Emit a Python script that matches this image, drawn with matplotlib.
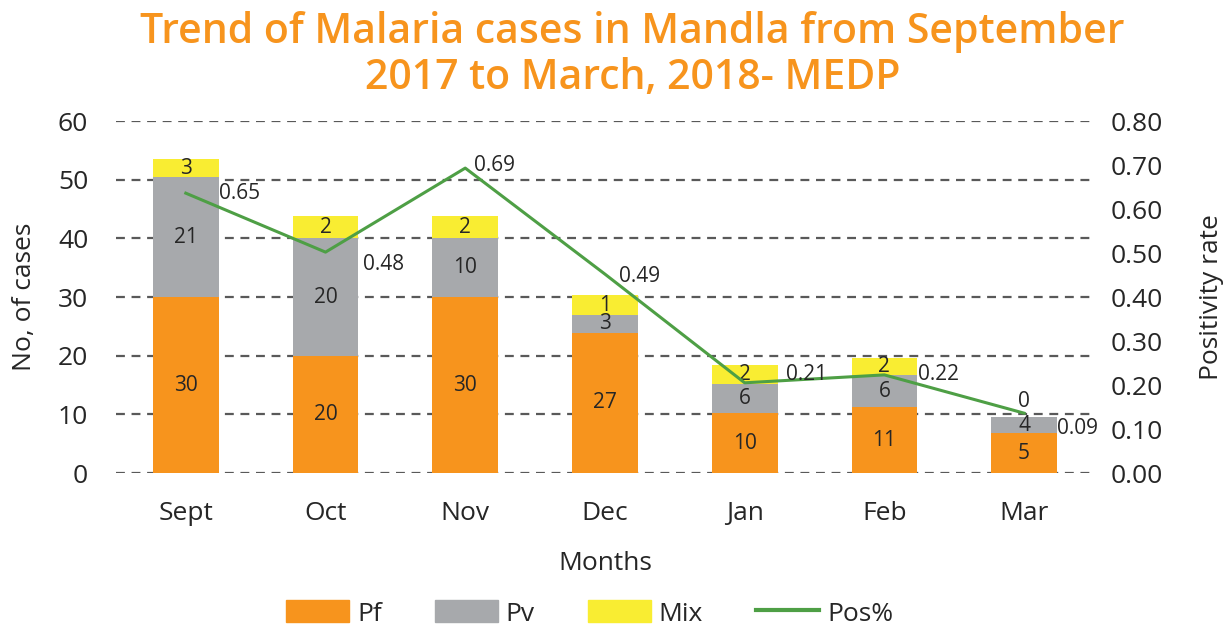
import matplotlib
matplotlib.use("Agg")
import matplotlib.pyplot as plt
from matplotlib.patches import Patch
from matplotlib.lines import Line2D

plt.rcParams['font.family'] = ['Open Sans', 'DejaVu Sans']

months = ['Sept', 'Oct', 'Nov', 'Dec', 'Jan', 'Feb', 'Mar']
pf = [30, 20, 30, 23.9, 10.2, 11.25, 6.8]
pv = [20.4, 20, 10, 3.0, 5.0, 5.45, 2.7]
mix = [3.1, 3.8, 3.8, 3.4, 3.2, 2.9, 0]
pos_rate = [0.636, 0.502, 0.693, 0.452, 0.205, 0.223, 0.136]

pf_labels = ['30', '20', '30', '27', '10', '11', '5']
pv_labels = ['21', '20', '10', '3', '6', '6', '4']
mix_labels = ['3', '2', '2', '1', '2', '2', '0']
pos_labels = ['0.65', '0.48', '0.69', '0.49', '0.21', '0.22', '0.09']

left_ticks = [0, 10, 20, 30, 40, 50, 60]
right_ticks = [0.0, 0.1, 0.2, 0.3, 0.4, 0.5, 0.6, 0.7, 0.8]

C_PF = '#F7941D'
C_PV = '#A7A9AC'
C_MIX = '#F9ED32'
C_POS = '#4E9F45'
C_TXT = '#262626'
C_TITLE = '#F7941D'

fig = plt.figure(figsize=(12.23, 6.26), dpi=100)
ax = fig.add_axes([0.0948, 0.2444, 0.7997, 0.5623])
ax2 = ax.twinx()

x = list(range(len(months)))
w = 0.47
ax.bar(x, pf, width=w, color=C_PF, zorder=2)
ax.bar(x, pv, width=w, bottom=pf, color=C_PV, zorder=2)
bot3 = [a + b for a, b in zip(pf, pv)]
ax.bar(x, mix, width=w, bottom=bot3, color=C_MIX, zorder=2)

ax.set_xlim(-0.5, 6.5)
ax.set_ylim(0, 60)
ax.set_yticks(left_ticks)
ax.set_yticklabels([str(t) for t in left_ticks])
ax.set_xticks(x)
ax.set_xticklabels(months)
ax.yaxis.grid(True, color='#595959', linestyle=(0, (4, 3)), linewidth=1.6, zorder=0)
ax.set_axisbelow(True)
ax.tick_params(axis='both', length=0, labelsize=19, colors=C_TXT)
ax.tick_params(axis='y', pad=20)
ax.tick_params(axis='x', pad=20)
for s in ax.spines.values():
    s.set_visible(False)
ax.set_xlabel('Months', fontsize=19, color=C_TXT, labelpad=18)
ax.set_ylabel('No, of cases', fontsize=19, color=C_TXT, labelpad=15)

for i in x:
    ax.text(i, pf[i] / 2, pf_labels[i], ha='center', va='center', fontsize=15, color=C_TXT, zorder=5)
    ax.text(i, pf[i] + pv[i] / 2, pv_labels[i], ha='center', va='center', fontsize=15, color=C_TXT, zorder=5)
    if mix[i] > 0:
        ax.text(i, bot3[i] + mix[i] / 2, mix_labels[i], ha='center', va='center', fontsize=15, color=C_TXT, zorder=5)
    else:
        ax.annotate(mix_labels[i], (i, bot3[i]), xytext=(0, 4), textcoords='offset points',
                    ha='center', va='bottom', fontsize=15, color=C_TXT, zorder=5)

ax2.plot(x, pos_rate, color=C_POS, linewidth=2.2, zorder=4)
ax2.set_ylim(0, 0.8)
ax2.set_yticks(right_ticks)
ax2.set_yticklabels([f'{t:.2f}' for t in right_ticks])
ax2.tick_params(axis='y', length=0, labelsize=19, colors=C_TXT, pad=12)
for s in ax2.spines.values():
    s.set_visible(False)
ax2.set_ylabel('Positivity rate', fontsize=19, color=C_TXT, labelpad=26)

offsets = [(24, 0), (27, -9), (6, 2), (10, -2), (30, 6), (24, 0), (24, -11)]
for i in x:
    ax2.annotate(pos_labels[i], (i, pos_rate[i]), xytext=offsets[i], textcoords='offset points',
                 ha='left', va='center', fontsize=15, color=C_TXT, zorder=6)

fig.text(0.517, 0.912, 'Trend of Malaria cases in Mandla from September\n2017 to March, 2018- MEDP',
         ha='center', va='center', fontsize=29.5, fontweight='semibold', color=C_TITLE, linespacing=1.1)

handles = [Patch(color=C_PF), Patch(color=C_PV), Patch(color=C_MIX),
           Line2D([], [], color=C_POS, linewidth=3)]
fig.legend(handles, ['Pf', 'Pv', 'Mix', 'Pos%'], loc='center', bbox_to_anchor=(0.482, 0.02),
           ncol=4, frameon=False, fontsize=19, handlelength=2.4, handleheight=0.9,
           handletextpad=0.3, columnspacing=2.0, labelcolor=C_TXT)

fig.savefig('out.png', dpi=100)
